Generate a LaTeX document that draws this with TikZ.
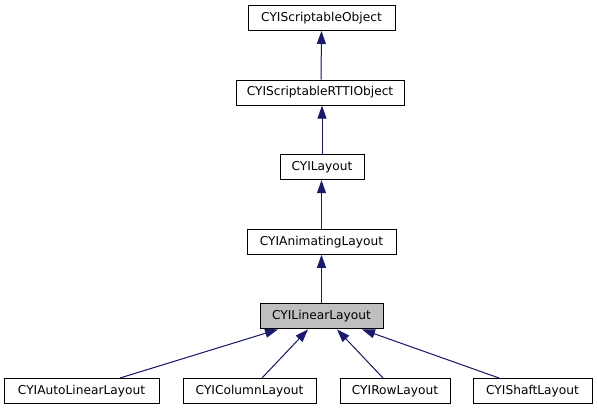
\documentclass[tikz,border=0pt]{standalone}
\usepackage{fontspec}
\setmainfont{DejaVu Sans}
\usetikzlibrary{arrows.meta}
\definecolor{edgeblue}{RGB}{25,25,112}
\definecolor{curgray}{RGB}{191,191,191}
\begin{document}
\begin{tikzpicture}[x=1pt,y=1pt,
  cls/.style={draw=black, line width=1pt, fill=white, minimum height=25pt, inner sep=0pt, font=\fontsize{12.2}{14}\selectfont, anchor=north},
  inh/.style={draw=edgeblue, line width=1pt, -{Triangle[length=13pt,width=9pt]}, fill=edgeblue}
]
\useasboundingbox (0,0) rectangle (597,-411);
\node[cls, minimum width=147pt] (so) at (321.5,-5) {CYIScriptableObject};
\node[cls, minimum width=168pt] (rtti) at (320,-79.6) {CYIScriptableRTTIObject};
\node[cls, minimum width=84pt] (lay) at (322,-154.2) {CYILayout};
\node[cls, minimum width=149pt] (anim) at (321.5,-228.8) {CYIAnimatingLayout};
\node[cls, minimum width=123pt, fill=curgray] (lin) at (321.5,-303.4) {CYILinearLayout};
\node[cls, minimum width=155pt] (auto) at (81.5,-378) {CYIAutoLinearLayout};
\node[cls, minimum width=133pt] (col) at (249.5,-378) {CYIColumnLayout};
\node[cls, minimum width=110pt] (row) at (395,-378) {CYIRowLayout};
\node[cls, minimum width=119pt] (shaft) at (532.5,-378) {CYIShaftLayout};

\draw[inh] ([xshift=-0.5pt]rtti.north -| so.south) -- (so.south);
\draw[inh] (lay.north) -- (lay.north |- rtti.south);
\draw[inh] (anim.north) -- (anim.north |- lay.south);
\draw[inh] (lin.north) -- (lin.north |- anim.south);
\draw[inh] ([xshift=38.5pt]auto.north) -- ([xshift=-43.5pt]lin.south);
\draw[inh] ([xshift=12.5pt]col.north) -- ([xshift=-13.5pt]lin.south);
\draw[inh] ([xshift=-12pt]row.north) -- ([xshift=15.5pt]lin.south);
\draw[inh] ([xshift=-33.5pt]shaft.north) -- ([xshift=40.5pt]lin.south);
\end{tikzpicture}
\end{document}
